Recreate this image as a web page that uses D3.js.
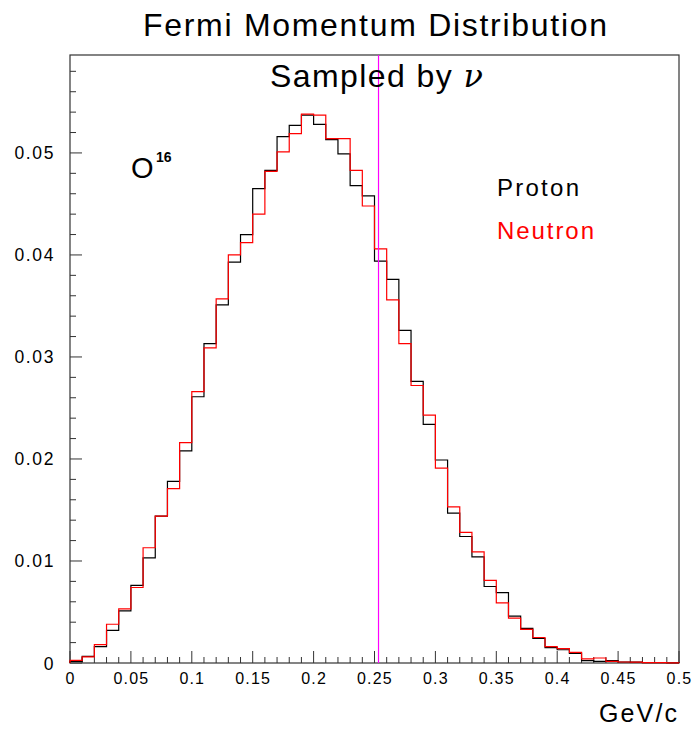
<!DOCTYPE html>
<html>
<head>
<meta charset="utf-8">
<script src="https://cdn.jsdelivr.net/npm/d3@7"></script>
<style>
  body { margin: 0; background: #fff; }
  text { font-family: "Liberation Sans", Arial, sans-serif; fill: #000; }
</style>
</head>
<body>
<script>
// bin edges: 50 bins of 0.01 GeV/c from 0 to 0.5
var binWidth = 0.01;
var proton = [0.00015, 0.00065, 0.0016, 0.0032, 0.0051, 0.0076, 0.0103, 0.0144, 0.0178, 0.0208,
              0.0261, 0.0313, 0.0351, 0.0393, 0.0420, 0.0465, 0.0483, 0.0516, 0.0527, 0.0537,
              0.0528, 0.0513, 0.0499, 0.0468, 0.0458, 0.0394, 0.0376, 0.0326, 0.0276, 0.0234,
              0.0199, 0.0147, 0.0124, 0.0104, 0.0075, 0.0069, 0.0046, 0.0034, 0.0024, 0.0015,
              0.0013, 0.00095, 0.00023, 0.00016, 0.00023, 0.0001, 0.00008, 0.00004, 0.00003, 0.00002];
var neutron = [0.00026, 0.0006, 0.0018, 0.0038, 0.0053, 0.0074, 0.0113, 0.0144, 0.0171, 0.0216,
               0.0266, 0.0309, 0.0357, 0.0400, 0.0412, 0.0440, 0.0482, 0.0501, 0.0519, 0.0538,
               0.0537, 0.0514, 0.0514, 0.0483, 0.0448, 0.0406, 0.0356, 0.0313, 0.0272, 0.0243,
               0.0191, 0.0153, 0.0128, 0.0109, 0.0081, 0.0059, 0.0044, 0.0033, 0.0025, 0.0016,
               0.0014, 0.00105, 0.0004, 0.00049, 0.00016, 0.0001, 0.00008, 0.00004, 0.00003, 0.00002];
var xTicks = [0, 0.05, 0.1, 0.15, 0.2, 0.25, 0.3, 0.35, 0.4, 0.45, 0.5];
var yTicks = [0, 0.01, 0.02, 0.03, 0.04, 0.05];
var cutValue = 0.2533;

var width = 696, height = 731;
var margin = {top: 55, right: 17, bottom: 68, left: 70};

var svg = d3.select("body").append("svg")
    .attr("width", width)
    .attr("height", height);

var x = d3.scaleLinear().domain([0, 0.5]).range([margin.left, width - margin.right]);
var y = d3.scaleLinear().domain([0, 0.0596]).range([height - margin.bottom, margin.top]);

// frame
svg.append("rect")
    .attr("x", x(0)).attr("y", y.range()[1])
    .attr("width", x(0.5) - x(0)).attr("height", y(0) - y.range()[1])
    .attr("fill", "none").attr("stroke", "#333").attr("stroke-width", 1.2);

// x ticks (inside, pointing up)
var xMinor = d3.range(0, 0.5001, 0.01);
svg.append("g").selectAll("line")
    .data(xMinor)
    .join("line")
    .attr("x1", d => x(d)).attr("x2", d => x(d))
    .attr("y1", y(0))
    .attr("y2", (d, i) => y(0) - (i % 5 == 0 ? 12 : 6))
    .attr("stroke", "#333").attr("stroke-width", 1);

svg.append("g").selectAll("text")
    .data(xTicks)
    .join("text")
    .attr("x", d => x(d) + 0.5)
    .attr("y", y(0) + 21)
    .attr("text-anchor", "middle")
    .style("font-size", "16px")
    .style("letter-spacing", "1.2px")
    .text(d => d3.format("~g")(d));

// y ticks (inside, pointing right)
var yMinor = d3.range(0, 0.0595, 0.002);
svg.append("g").selectAll("line")
    .data(yMinor)
    .join("line")
    .attr("x1", x(0))
    .attr("x2", (d, i) => x(0) + (i % 5 == 0 ? 12 : 6))
    .attr("y1", d => y(d)).attr("y2", d => y(d))
    .attr("stroke", "#333").attr("stroke-width", 1);

svg.append("g").selectAll("text")
    .data(yTicks)
    .join("text")
    .attr("x", x(0) - 15)
    .attr("y", d => y(d) + 6.5)
    .attr("text-anchor", "end")
    .style("font-size", "17.5px")
    .style("letter-spacing", "1.6px")
    .text(d => d3.format("~g")(d));

// histograms
function stepPoints(vals) {
    var pts = [[0, 0]];
    vals.forEach((v, i) => pts.push([i * binWidth, v]));
    pts.push([vals.length * binWidth, vals[vals.length - 1]]);
    pts.push([vals.length * binWidth, 0]);
    return pts;
}
var line = d3.line()
    .x(d => x(d[0]))
    .y(d => y(d[1]))
    .curve(d3.curveStepAfter);

svg.append("path")
    .attr("d", line(stepPoints(proton)))
    .attr("fill", "none").attr("stroke", "#000").attr("stroke-width", 1.2);

svg.append("path")
    .attr("d", line(stepPoints(neutron)))
    .attr("fill", "none").attr("stroke", "#ff0000").attr("stroke-width", 1.2);

// cut line
svg.append("line")
    .attr("x1", x(cutValue)).attr("x2", x(cutValue))
    .attr("y1", y(0)).attr("y2", y.range()[1])
    .attr("stroke", "#ff00ff").attr("stroke-width", 1.2);

// titles
svg.append("text")
    .attr("x", 143).attr("y", 36)
    .attr("textLength", 464)
    .attr("lengthAdjust", "spacing")
    .style("font-size", "32px")
    .text("Fermi Momentum Distribution");

var sub = svg.append("text")
    .attr("x", 270).attr("y", 87)
    .attr("textLength", 213)
    .attr("lengthAdjust", "spacing")
    .style("font-size", "32px");
sub.append("tspan").text("Sampled by ");
sub.append("tspan").style("font-style", "italic").style("font-family", "'DejaVu Serif', serif").text("\u03BD");

var nuc = svg.append("text")
    .attr("x", 131).attr("y", 178)
    .style("font-size", "29px");
nuc.append("tspan").text("O");
nuc.append("tspan").attr("x", 156).attr("y", 162).style("font-size", "14px").style("font-weight", "bold").text("16");

svg.append("text")
    .attr("x", 497).attr("y", 196)
    .attr("textLength", 82)
    .attr("lengthAdjust", "spacing")
    .style("font-size", "24px")
    .text("Proton");

svg.append("text")
    .attr("x", 497).attr("y", 239)
    .attr("textLength", 97)
    .attr("lengthAdjust", "spacing")
    .style("font-size", "24px")
    .style("fill", "#ff0000")
    .text("Neutron");

svg.append("text")
    .attr("x", 599).attr("y", 722)
    .attr("textLength", 78)
    .attr("lengthAdjust", "spacing")
    .style("font-size", "25px")
    .text("GeV/c");
</script>
</body>
</html>
